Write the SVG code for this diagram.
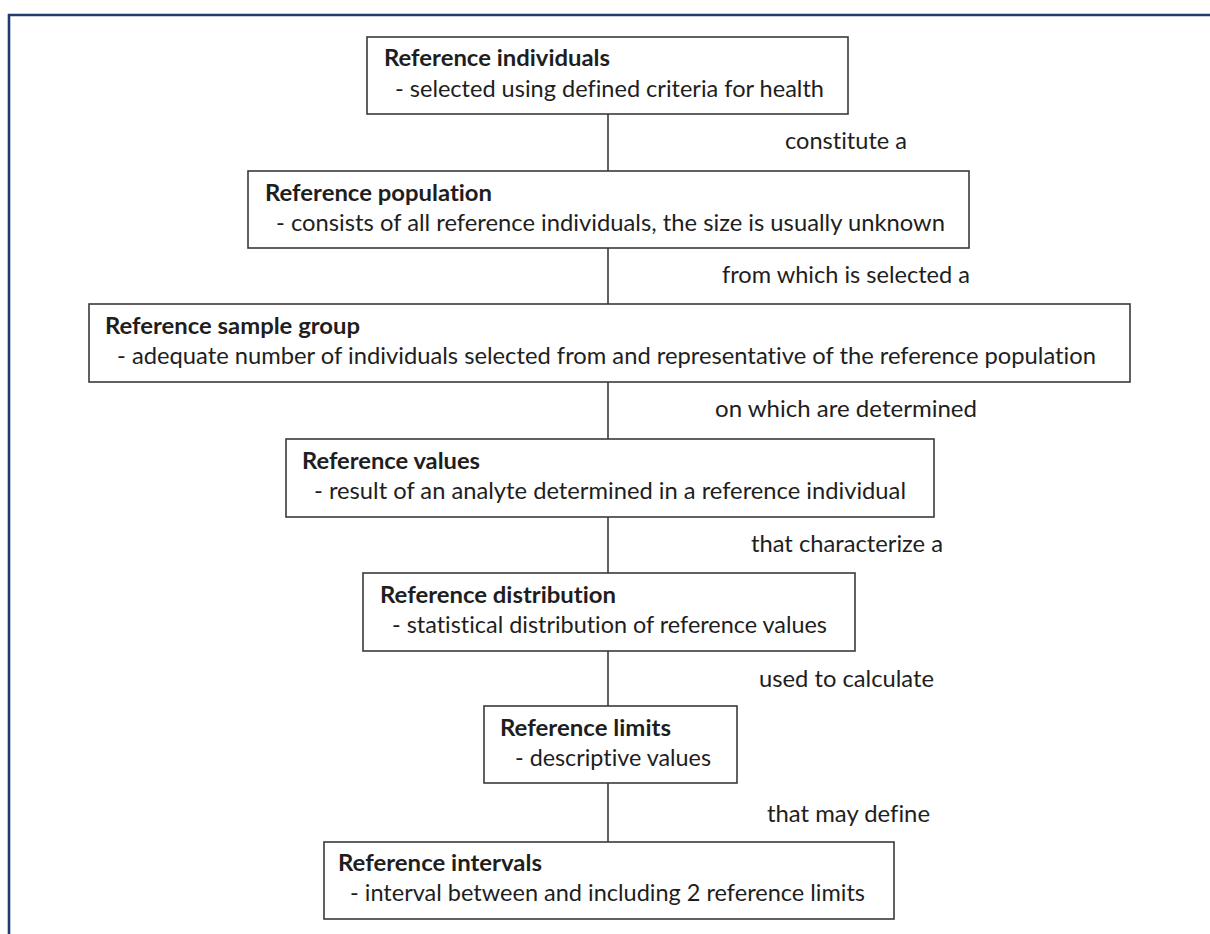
<svg xmlns="http://www.w3.org/2000/svg" width="1210" height="934" viewBox="0 0 1210 934">
<style>
.box{fill:#ffffff;stroke:#3a3a3a;stroke-width:1.6}
.t{font-family:Lato,"Liberation Sans",sans-serif;font-size:23px;fill:#1e1e1e;font-variant-ligatures:none;font-feature-settings:"liga" 0,"clig" 0}
.b{font-weight:bold}
.conn line{stroke:#3a3a3a;stroke-width:1.6}
.frame{stroke:#203c6e;stroke-width:2.6;fill:none}
</style>
<rect width="1210" height="934" fill="#ffffff"/>
<path class="frame" d="M9,934 V15 H1210"/>
<g id="connectors" class="conn">
<line x1="608" y1="114" x2="608" y2="171"/>
<line x1="608" y1="248" x2="608" y2="304"/>
<line x1="608" y1="382" x2="608" y2="439"/>
<line x1="608" y1="517" x2="608" y2="573"/>
<line x1="608" y1="651" x2="608" y2="706"/>
<line x1="608" y1="783" x2="608" y2="842"/>
</g>
<g id="labels">
<text class="t" x="785" y="149" textLength="122" lengthAdjust="spacingAndGlyphs">constitute a</text>
<text class="t" x="722" y="283" textLength="248" lengthAdjust="spacingAndGlyphs">from which is selected a</text>
<text class="t" x="715" y="417" textLength="262" lengthAdjust="spacingAndGlyphs">on which are determined</text>
<text class="t" x="751" y="552" textLength="192" lengthAdjust="spacingAndGlyphs">that characterize a</text>
<text class="t" x="759" y="687" textLength="175" lengthAdjust="spacingAndGlyphs">used to calculate</text>
<text class="t" x="767" y="822" textLength="163" lengthAdjust="spacingAndGlyphs">that may define</text>
</g>
<g id="node1">
<rect class="box" x="367" y="37" width="481" height="77"/>
<text class="t b" x="384" y="66" textLength="226" lengthAdjust="spacingAndGlyphs">Reference individuals</text>
<text class="t" x="395" y="97" textLength="429" lengthAdjust="spacingAndGlyphs">- selected using defined criteria for health</text>
</g>
<g id="node2">
<rect class="box" x="248" y="171" width="721" height="77"/>
<text class="t b" x="265" y="201" textLength="227" lengthAdjust="spacingAndGlyphs">Reference population</text>
<text class="t" x="276" y="231" textLength="669" lengthAdjust="spacingAndGlyphs">- consists of all reference individuals, the size is usually unknown</text>
</g>
<g id="node3">
<rect class="box" x="89" y="304" width="1041" height="78"/>
<text class="t b" x="105" y="334" textLength="255" lengthAdjust="spacingAndGlyphs">Reference sample group</text>
<text class="t" x="117" y="364" textLength="979" lengthAdjust="spacingAndGlyphs">- adequate number of individuals selected from and representative of the reference population</text>
</g>
<g id="node4">
<rect class="box" x="286" y="439" width="648" height="78"/>
<text class="t b" x="302" y="469" textLength="178" lengthAdjust="spacingAndGlyphs">Reference values</text>
<text class="t" x="314" y="499" textLength="592" lengthAdjust="spacingAndGlyphs">- result of an analyte determined in a reference individual</text>
</g>
<g id="node5">
<rect class="box" x="363" y="573" width="492" height="78"/>
<text class="t b" x="380" y="603" textLength="236" lengthAdjust="spacingAndGlyphs">Reference distribution</text>
<text class="t" x="392" y="633" textLength="435" lengthAdjust="spacingAndGlyphs">- statistical distribution of reference values</text>
</g>
<g id="node6">
<rect class="box" x="484" y="706" width="253" height="77"/>
<text class="t b" x="500" y="736" textLength="171" lengthAdjust="spacingAndGlyphs">Reference limits</text>
<text class="t" x="515" y="766" textLength="196" lengthAdjust="spacingAndGlyphs">- descriptive values</text>
</g>
<g id="node7">
<rect class="box" x="324" y="842" width="570" height="77"/>
<text class="t b" x="338" y="871" textLength="204" lengthAdjust="spacingAndGlyphs">Reference intervals</text>
<text class="t" x="350" y="901" textLength="515" lengthAdjust="spacingAndGlyphs">- interval between and including 2 reference limits</text>
</g>
</svg>
